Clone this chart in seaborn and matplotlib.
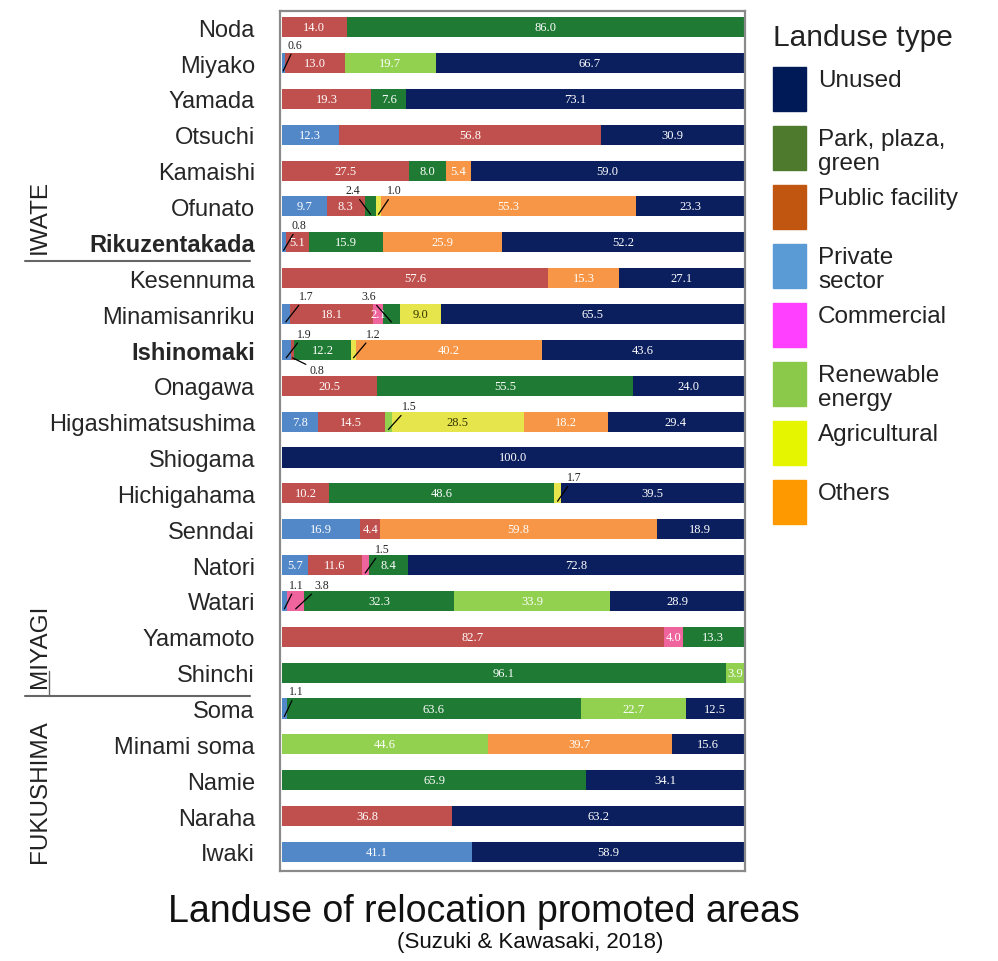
import pandas as pd
import matplotlib.pyplot as plt
import seaborn as sns
from matplotlib.patches import Rectangle
from matplotlib.lines import Line2D

# Data (percent of relocation promoted area by landuse type)
cities = ['Noda', 'Miyako', 'Yamada', 'Otsuchi', 'Kamaishi', 'Ofunato', 'Rikuzentakada',
          'Kesennuma', 'Minamisanriku', 'Ishinomaki', 'Onagawa', 'Higashimatsushima',
          'Shiogama', 'Hichigahama', 'Senndai', 'Natori', 'Watari', 'Yamamoto', 'Shinchi',
          'Soma', 'Minami soma', 'Namie', 'Naraha', 'Iwaki']
categories = ['Private sector', 'Public facility', 'Commercial', 'Park, plaza, green',
              'Renewable energy', 'Agricultural', 'Others', 'Unused']

private = [0, 0.6, 0, 12.3, 0, 9.7, 0.8, 0, 1.7, 1.9, 0, 7.8, 0, 0, 16.9, 5.7, 1.1, 0, 0, 1.1, 0, 0, 0, 41.1]
public = [14.0, 13.0, 19.3, 56.8, 27.5, 8.3, 5.1, 57.6, 18.1, 0.8, 20.5, 14.5, 0, 10.2, 4.4, 11.6, 0, 82.7, 0, 0, 0, 0, 36.8, 0]
commercial = [0, 0, 0, 0, 0, 0, 0, 0, 2.1, 0, 0, 0, 0, 0, 0, 1.5, 3.8, 4.0, 0, 0, 0, 0, 0, 0]
park = [86.0, 0, 7.6, 0, 8.0, 2.4, 15.9, 0, 3.6, 12.2, 55.5, 0, 0, 48.6, 0, 8.4, 32.3, 13.3, 96.1, 63.6, 0, 65.9, 0, 0]
renewable = [0, 19.7, 0, 0, 0, 0, 0, 0, 0, 0, 0, 1.5, 0, 0, 0, 0, 33.9, 0, 3.9, 22.7, 44.6, 0, 0, 0]
agricultural = [0, 0, 0, 0, 0, 1.0, 0, 0, 9.0, 1.2, 0, 28.5, 0, 1.7, 0, 0, 0, 0, 0, 0, 0, 0, 0, 0]
others = [0, 0, 0, 0, 5.4, 55.3, 25.9, 15.3, 0, 40.2, 0, 18.2, 0, 0, 59.8, 0, 0, 0, 0, 0, 39.7, 0, 0, 0]
unused = [0, 66.7, 73.1, 30.9, 59.0, 23.3, 52.2, 27.1, 65.5, 43.6, 24.0, 29.4, 100.0, 39.5, 18.9, 72.8, 28.9, 0, 0, 12.5, 15.6, 34.1, 63.2, 58.9]

groups = ['IWATE', 'MIYAGI', 'FUKUSHIMA']
bold_cities = ['Rikuzentakada', 'Ishinomaki']
legend_order = ['Unused', 'Park, plaza,\ngreen', 'Public facility', 'Private\nsector',
                'Commercial', 'Renewable\nenergy', 'Agricultural', 'Others']

# small segments labelled outside the bar: (city, category) -> (dx, dy, ha)
callouts = {
    ('Miyako', 'Private sector'): (1.0, -0.5, 'left'),
    ('Ofunato', 'Park, plaza, green'): (-2.3, -0.45, 'right'),
    ('Ofunato', 'Agricultural'): (1.9, -0.45, 'left'),
    ('Rikuzentakada', 'Private sector'): (1.6, -0.48, 'left'),
    ('Minamisanriku', 'Private sector'): (2.8, -0.5, 'left'),
    ('Minamisanriku', 'Park, plaza, green'): (-3.4, -0.5, 'right'),
    ('Ishinomaki', 'Private sector'): (2.4, -0.45, 'left'),
    ('Ishinomaki', 'Public facility'): (3.6, 0.55, 'left'),
    ('Ishinomaki', 'Agricultural'): (2.8, -0.45, 'left'),
    ('Higashimatsushima', 'Renewable energy'): (2.95, -0.43, 'left'),
    ('Hichigahama', 'Agricultural'): (2.0, -0.45, 'left'),
    ('Natori', 'Commercial'): (2.1, -0.45, 'left'),
    ('Watari', 'Private sector'): (1.0, -0.45, 'left'),
    ('Watari', 'Commercial'): (4.0, -0.45, 'left'),
    ('Soma', 'Private sector'): (1.0, -0.48, 'left'),
}

bar_colors = {'Private sector': '#5287c8', 'Public facility': '#c0504d', 'Commercial': '#f0649e',
              'Park, plaza, green': '#1f7a34', 'Renewable energy': '#92d050',
              'Agricultural': '#e6e64c', 'Others': '#f79646', 'Unused': '#0b1f5e'}
legend_colors = ['#001a57', '#4e7a2e', '#c0560f', '#5b9bd5', '#ff40ff', '#8bc94a', '#e5f500', '#ff9900']

df = pd.DataFrame({'city': cities, 'Private sector': private, 'Public facility': public,
                   'Commercial': commercial, 'Park, plaza, green': park,
                   'Renewable energy': renewable, 'Agricultural': agricultural,
                   'Others': others, 'Unused': unused})
cum = df[categories].cumsum(axis=1)

sns.set_theme(style='white')
plt.rcParams['font.family'] = ['Liberation Sans', 'DejaVu Sans']

W, H = 998, 962
fig = plt.figure(figsize=(W / 100, H / 100), dpi=100)
ax = fig.add_axes([280 / W, 1 - 872 / H, 465 / W, 860 / H])

# stacked bars: draw cumulative totals from the largest down
for cat in reversed(categories):
    sns.barplot(x=cum[cat], y=df['city'], color=bar_colors[cat], orient='h',
                width=0.56, linewidth=0, saturation=1, ax=ax)

# value labels
for i, city in enumerate(cities):
    left = 0
    for cat in categories:
        v = df.loc[i, cat]
        if v <= 0:
            continue
        cx = left + v / 2
        if (city, cat) in callouts:
            dx, dy, ha = callouts[(city, cat)]
            ax.annotate(f'{v:.1f}', xy=(cx, i + 0.22), xytext=(cx + dx, i + dy),
                        ha=ha, va='center', fontsize=8.5, family='Liberation Serif',
                        color='#222222',
                        arrowprops=dict(arrowstyle='-', lw=0.9, color='black',
                                        shrinkA=0, shrinkB=0))
        else:
            tc = '#333300' if cat == 'Agricultural' else 'white'
            ax.text(cx, i, f'{v:.1f}', ha='center', va='center', fontsize=9,
                    family='Liberation Serif', color=tc, clip_on=True)
        left += v

ax.set_xlim(-0.4, 100.2)
ax.set_ylim(23.53, -0.45)
ax.set_xlabel('')
ax.set_ylabel('')
ax.set_xticks([])
ax.tick_params(axis='y', length=0, pad=18, labelsize=17)
for lab in ax.get_yticklabels():
    if lab.get_text() in bold_cities:
        lab.set_fontweight('bold')
for s in ax.spines.values():
    s.set_visible(True)
    s.set_color('#8a8a8a')
    s.set_linewidth(1.6)


def fx(x):
    return x / W


def fy(y):
    return 1 - y / H


# prefecture group labels and separators
for name, yc in zip(groups, [217, 646, 792]):
    fig.text(fx(40), fy(yc), name, rotation=90, ha='center', va='center', fontsize=17.5,
             color='#222222')
for yl in [262, 697]:
    fig.add_artist(Line2D([fx(25), fx(250)], [fy(yl), fy(yl)], color='#666666', lw=1.5))
fig.add_artist(Line2D([fx(49), fx(49)], [fy(672), fy(697)], color='#666666', lw=1.0))

# legend
fig.text(fx(773), fy(38), 'Landuse type', ha='left', va='center', fontsize=21.5, color='#222222')
for k, (lab, col) in enumerate(zip(legend_order, legend_colors)):
    top = 68 + k * 59
    fig.add_artist(Rectangle((fx(773), fy(top + 44)), 33 / W, 44 / H, color=col,
                             transform=fig.transFigure))
    fig.text(fx(818), fy(top + 2), lab, ha='left', va='top', fontsize=17.5,
             color='#222222', linespacing=1.1)

# titles
fig.text(fx(484), fy(912), 'Landuse of relocation promoted areas', ha='center', va='center',
         fontsize=27, color='#111111')
fig.text(fx(530), fy(943), '(Suzuki & Kawasaki, 2018)', ha='center', va='center',
         fontsize=16, color='#111111')

fig.savefig('out.png', dpi=100, facecolor='white')
